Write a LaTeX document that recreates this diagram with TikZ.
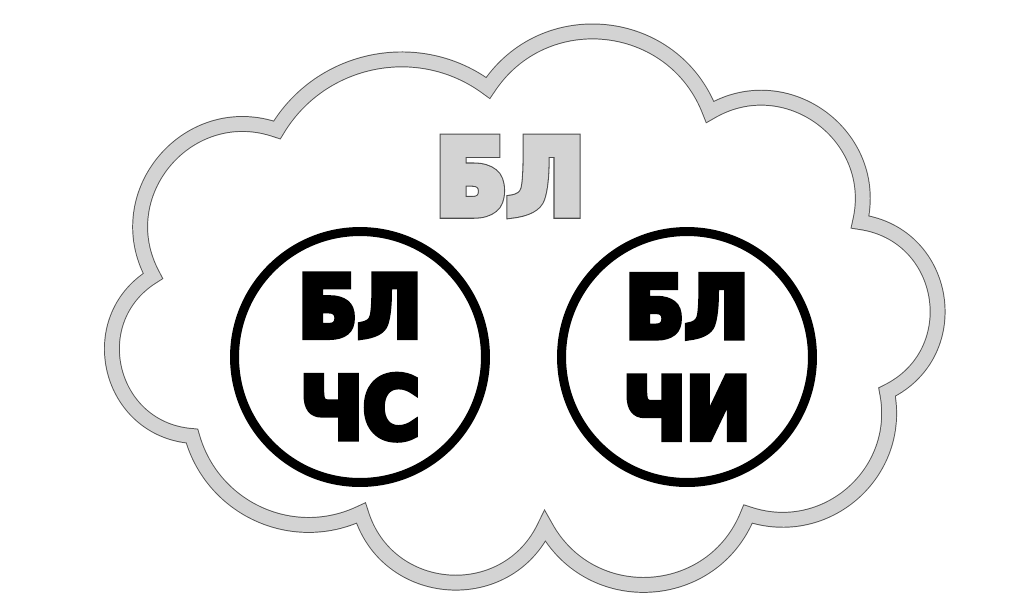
\documentclass[tikz,border=0pt]{standalone}
\usepackage{fontspec}
\setmainfont{DejaVu Sans}
\newfontfamily\condfont{DejaVu Sans Condensed}
\definecolor{ringgray}{HTML}{D3D3D3}
\definecolor{edgegray}{HTML}{555555}
\tikzset{
  cloudring/.style={draw=edgegray, line width=0.55pt, double=ringgray, double distance=7.9pt},
  bigcircle/.style={circle, draw=black, line width=0.18cm, minimum size=5.02cm, inner sep=0pt,
    align=center, font=\condfont\fontsize{49}{57.8}\selectfont\bfseries},
  titletext/.style={anchor=base, font=\condfont\fontsize{59}{59}\selectfont\bfseries},
}
% heavier glyphs: fill and stroke the text
\newcommand{\heavy}[1]{\special{pdf:literal direct 2 Tr 3.4 w 0 0 0 RG}#1\special{pdf:literal direct 0 Tr 0.4 w}}
% grey letters with a dark rim
\newcommand{\rimmed}[1]{\rlap{\special{pdf:literal direct 2 Tr 5.4 w 0.3 0.3 0.3 RG 0.3 0.3 0.3 rg}#1}%
  \special{pdf:literal direct 2 Tr 4.2 w 0.827 0.827 0.827 RG 0.827 0.827 0.827 rg}#1\special{pdf:literal direct 0 Tr 0.4 w 0 0 0 RG 0 0 0 rg}}

\begin{document}
\begin{tikzpicture}[x=0.02cm, y=-0.02cm]
  \useasboundingbox (0,0) rectangle (1024,600);
  % cloud
  \draw[cloudring] (277,130) to[bend left=48, looseness=1.02] (488,88)
    to[bend left=63, looseness=1.17] (710,112)
    to[bend left=67, looseness=1.22] (860,222)
    to[bend left=73, looseness=1.32] (887,392)
    to[bend left=60, looseness=1.14] (748,514)
    to[bend left=65, looseness=1.2] (545,526)
    to[bend left=69, looseness=1.25] (361,513)
    to[bend left=50, looseness=1.04] (192,436)
    to[bend left=72, looseness=1.3] (153,276)
    to[bend left=69, looseness=1.25] (277,130) -- cycle;
  % circles
  \node[bigcircle] (lcircle) at (360,357) {\heavy{БЛ}\\\heavy{ЧС}};
  \node[bigcircle] (rcircle) at (687,357) {\heavy{БЛ}\\\heavy{ЧИ}};
  % title
  \node[titletext] (title) at (510,214) {\rimmed{БЛ}};
\end{tikzpicture}
\end{document}
